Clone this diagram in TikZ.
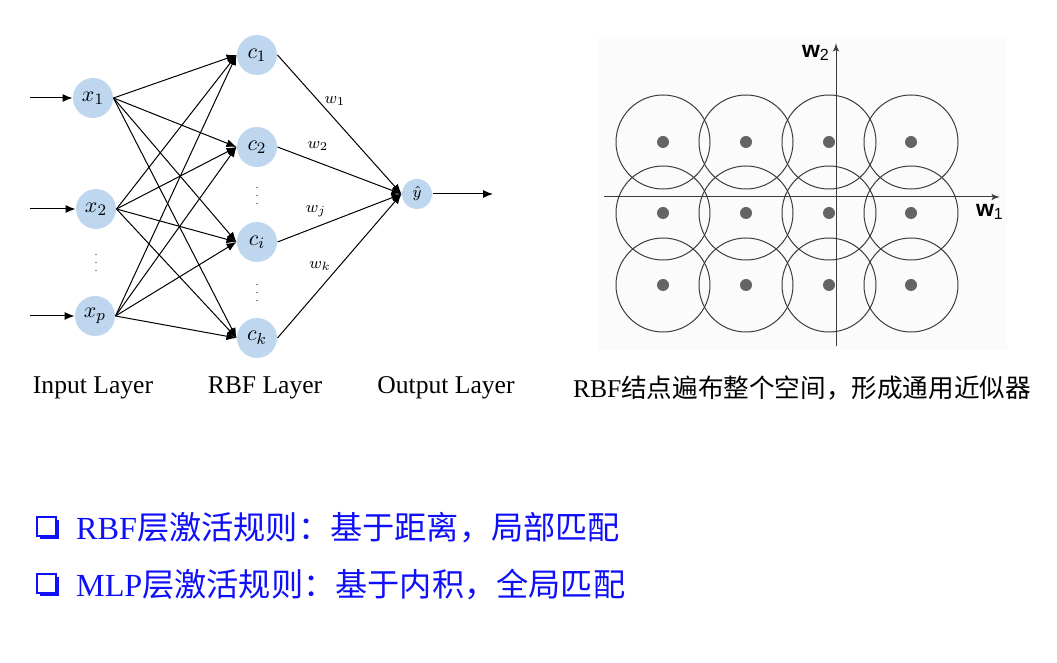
\documentclass[tikz,border=0pt]{standalone}
\usepackage{fontspec}
\setmainfont{Liberation Serif}
\setsansfont{Liberation Sans}
\newfontfamily\cjk{Noto Sans CJK SC}
\usetikzlibrary{arrows,arrows.meta,shadows}

\definecolor{neuronblue}{RGB}{190,214,238}
\definecolor{rulesblue}{RGB}{15,15,250}
\definecolor{centergray}{RGB}{100,100,100}
\definecolor{ringgray}{RGB}{60,60,60}

\begin{document}
\begin{tikzpicture}[x=0.5pt,y=-0.5pt,->,>={Latex[length=5pt,width=4pt]},line width=0.5pt,
                    neuron/.style={circle,fill=neuronblue,draw=none,minimum size=20pt,inner sep=0pt,
                                   font=\fontsize{11}{13}\selectfont},
                    outneuron/.style={circle,fill=neuronblue,draw=none,minimum size=15pt,inner sep=0pt,
                                      font=\fontsize{8}{9}\selectfont},
                    weight/.style={font=\fontsize{8}{9}\selectfont,inner sep=1pt},
                    layername/.style={font=\fontsize{12.8}{15}\selectfont},
                    rule/.style={anchor=west,text=rulesblue,font=\fontsize{16.1}{19}\selectfont},
                    bulletbox/.style={draw=rulesblue,line width=1pt,fill=white,minimum size=9.5pt,inner sep=0pt,
                                      drop shadow={shadow xshift=1.5pt,shadow yshift=-1.5pt,fill=rulesblue,opacity=1}},
                    axisname/.style={font=\sffamily\fontsize{11.5}{13}\selectfont}]

  \useasboundingbox (0,0) rectangle (1057,663);

  % input layer
  \node[neuron] (X1) at (93,98)  {$x_1$};
  \node[neuron] (X2) at (96,209) {$x_2$};
  \node[neuron] (XP) at (95,316) {$x_p$};
  \node[font=\tiny] (XD) at (96,257) {$\vdots$};

  % rbf layer
  \node[neuron] (C1) at (257,55)  {$c_1$};
  \node[neuron] (C2) at (257,147) {$c_2$};
  \node[neuron] (CI) at (257,242) {$c_i$};
  \node[neuron] (CK) at (257,338) {$c_k$};
  \node[font=\tiny] (CD1) at (257,190) {$\vdots$};
  \node[font=\tiny] (CD2) at (257,287) {$\vdots$};

  % output layer
  \node[outneuron] (Y) at (417,194) {$\hat{y}$};

  \coordinate (IN1) at (30,98);
  \coordinate (IN2) at (30,209);
  \coordinate (INP) at (30,316);
  \coordinate (OUT) at (493,194);

  \draw (IN1) -- (X1);
  \draw (IN2) -- (X2);
  \draw (INP) -- (XP);
  \draw (Y) -- (OUT);

  \foreach \a in {X1,X2,XP}
    \foreach \b in {C1,C2,CI,CK}
      \draw (\a.east) -- (\b.west);

  \path (C1.east) edge (Y.west)
        (C2.east) edge (Y.west)
        (CI.east) edge (Y.west)
        (CK.east) edge (Y.west);

  \node[weight] (W1) at (335,101) {$w_1$};
  \node[weight] (W2) at (318,146) {$w_2$};
  \node[weight] (WJ) at (316,211) {$w_j$};
  \node[weight] (WK) at (320,266) {$w_k$};

  % centres spread over the plane
  \begin{scope}[-]
    \fill[black!1.5] (598,37) rectangle (1007,350);
    \foreach \cx in {663,746,829,911}
      \foreach \cy in {142,213,285} {
        \draw[ringgray] (\cx,\cy) circle [radius=23.5pt];
        \fill[centergray] (\cx,\cy) circle [radius=3pt];
      }
  \end{scope}

  \coordinate (W1L) at (604,197);
  \coordinate (W1R) at (1000,197);
  \coordinate (W2B) at (836,346);
  \coordinate (W2T) at (836,43);
  \draw[ringgray,>=latex'] (W1L) -- (W1R);
  \draw[ringgray,>=latex'] (W2B) -- (W2T);
  \node[axisname] (AX1) at (990,212) {\textbf{w}\textsubscript{1}};
  \node[axisname] (AX2) at (816,53)  {\textbf{w}\textsubscript{2}};

  % captions
  \node[layername] (LIN)  at (93,388)  {Input Layer};
  \node[layername] (LRBF) at (265,388) {RBF Layer};
  \node[layername] (LOUT) at (446,388) {Output Layer};
  \node[layername] (LCAP) at (802,388) {RBF{\cjk 结点遍布整个空间，形成通用近似器}};

  % activation rules
  \node[bulletbox] (B1) at (46,527) {};
  \node[rule] (R1) at (69,528) {RBF{\cjk 层激活规则：基于距离，局部匹配}};
  \node[bulletbox] (B2) at (46,584) {};
  \node[rule] (R2) at (69,585) {MLP{\cjk 层激活规则：基于内积，全局匹配}};
\end{tikzpicture}
\end{document}
